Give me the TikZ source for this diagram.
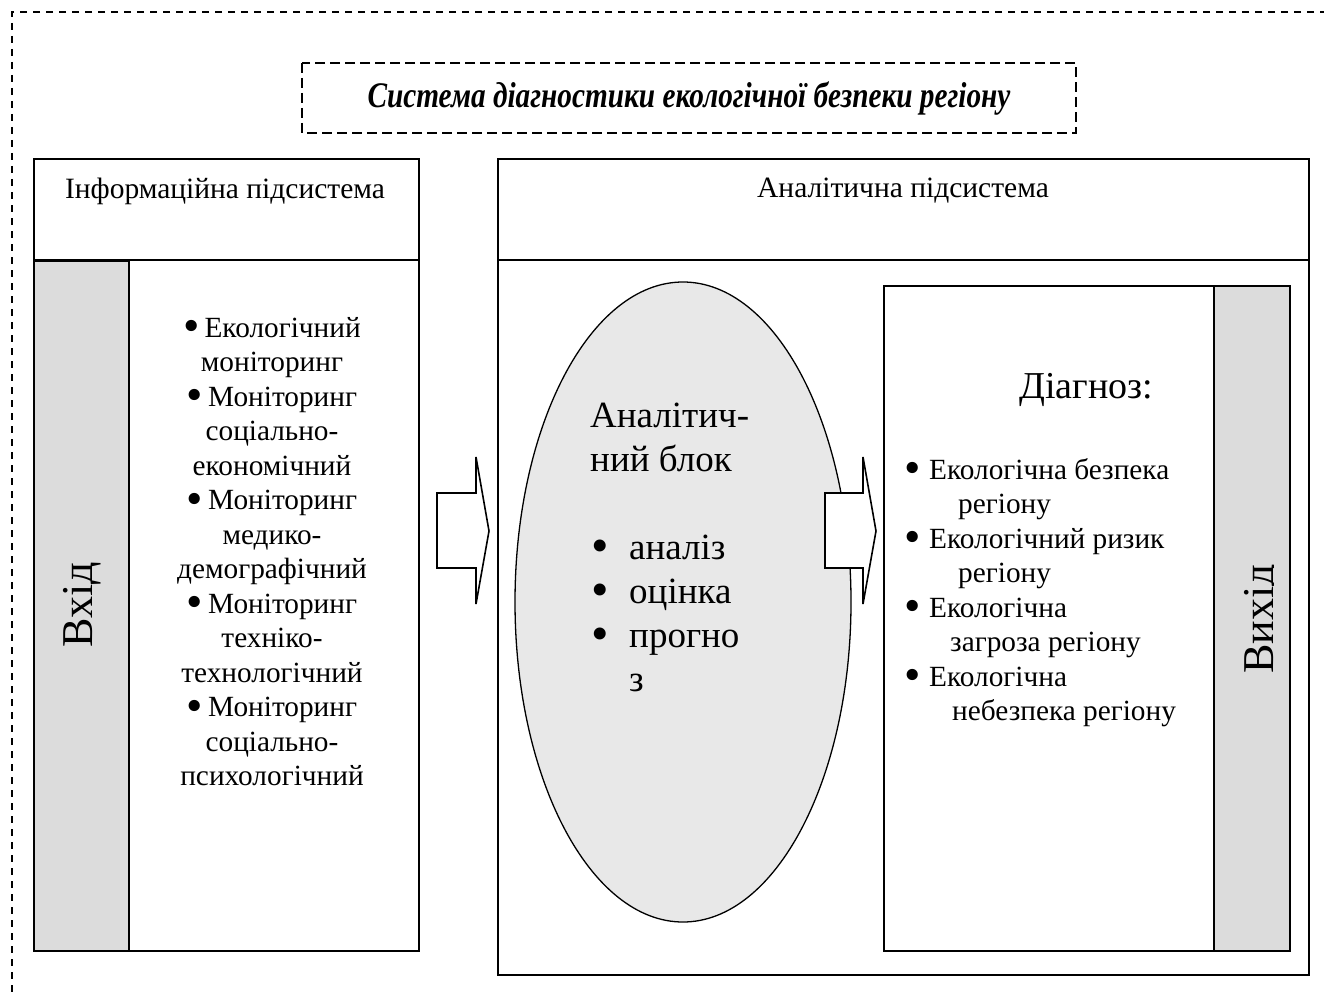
\documentclass[tikz,border=0pt]{standalone}
\usepackage{fontspec}
\setmainfont{Liberation Serif}
\usepackage{graphicx}
\usetikzlibrary{shapes.geometric}
\definecolor{colgray}{HTML}{DCDCDC}
\definecolor{ellgray}{HTML}{E8E8E8}
\newcommand{\bigbul}{\raisebox{-0.17em}{\scalebox{1.6}{•}}}
\newcommand{\midbul}{\raisebox{-0.1em}{\scalebox{1.35}{•}}}
\begin{document}
\begin{tikzpicture}[x=1pt,y=-1pt,
  box/.style={draw, line width=1.8pt, inner sep=0pt, anchor=north west},
  graycol/.style={box, fill=colgray},
  dashedframe/.style={line width=1.5pt, dash pattern=on 7pt off 6pt},
  titleframe/.style={line width=1.5pt, dash pattern=on 10pt off 5pt},
  blockarrow/.style={draw, line width=1.6pt, line join=miter, fill=white},
  headtxt/.style={font=\fontsize{29.5}{34}\selectfont},
  listtxt/.style={font=\fontsize{29.3}{34.5}\selectfont, inner sep=0pt},
  bigtxt/.style={font=\fontsize{37}{44}\selectfont, inner sep=0pt},
  sidetxt/.style={font=\fontsize{44}{50}\selectfont, rotate=90, inner sep=0pt}
]
\useasboundingbox (0,0) rectangle (1324,995);
\clip (0,0) rectangle (1324,995);

% outer dashed frame (runs off the page at right and bottom)
\draw[dashedframe] (1340,12) -- (12,12) -- (12,1010);

% title
\draw[titleframe] (302,63) rectangle (1076,133);
\node[font=\fontsize{36}{40}\selectfont\bfseries\itshape] (title) at (689,99)
  {\resizebox{643pt}{\height}{Система діагностики екологічної безпеки регіону}};

% information subsystem
\node[box, minimum width=385, minimum height=792] (info) at (33,158) {};
\draw[line width=1.8pt] (33,260) -- (418,260);
\node[headtxt] (infohead) at (225,191) {Інформаційна підсистема};
\node[graycol, minimum width=95, minimum height=690] (vhidcol) at (33,260) {};
\node[sidetxt] (vhid) at (82,605) {Вхід};
\node[listtxt, anchor=base] (infolist) at (272,337)
  {\begin{tabular}[t]{@{}c@{}}
   \bigbul\,Екологічний\\ моніторинг\\
   \bigbul\,Моніторинг\\ соціально-\\ економічний\\
   \bigbul\,Моніторинг\\ медико-\\ демографічний\\
   \bigbul\,Моніторинг\\ техніко-\\ технологічний\\
   \bigbul\,Моніторинг\\ соціально-\\ психологічний
   \end{tabular}};

% arrow 1
\draw[blockarrow] (437,493) -- (476,493) -- (476,457) -- (489,531) -- (476,604)
  -- (476,568) -- (437,568) -- cycle;

% analytical subsystem
\node[box, minimum width=811, minimum height=816] (anal) at (497,158) {};
\draw[line width=1.8pt] (497,260) -- (1308,260);
\node[headtxt] (analhead) at (903,191) {Аналітична підсистема};

% ellipse
\node[ellipse, draw, line width=1.3pt, fill=ellgray, minimum width=336, minimum height=640, inner sep=0pt] (ell) at (683,602) {};
\node[bigtxt, anchor=base west] (elltxt) at (590,427)
  {\begin{tabular}[t]{@{}l@{}}
   Аналітич-\\ ний блок\\[44pt]
   \makebox[39pt][l]{\hspace{1pt}\midbul}аналіз\\
   \makebox[39pt][l]{\hspace{1pt}\midbul}оцінка\\
   \makebox[39pt][l]{\hspace{1pt}\midbul}прогно\\
   \makebox[39pt][l]{}з
   \end{tabular}};

% arrow 2
\draw[blockarrow] (825,493) -- (863,493) -- (863,457) -- (876,531) -- (863,604)
  -- (863,568) -- (825,568) -- cycle;

% diagnosis box
\node[box, minimum width=330, minimum height=665] (diag) at (883,285) {};
\node[graycol, minimum width=76, minimum height=665] (vyhidcol) at (1213,285) {};
\begin{scope}
  \clip (1214,286) rectangle (1273.5,949);
  \node[sidetxt, anchor=base] (vyhid) at (1273.5,619) {Вихід};
\end{scope}
\node[font=\fontsize{38}{44}\selectfont, inner sep=0pt] (diaghead) at (1086,390) {Діагноз:};
\node[listtxt, anchor=base west] (diaglist) at (904,479)
  {\begin{tabular}[t]{@{}l@{}}
   \makebox[25pt][l]{\bigbul}Екологічна безпека\\
   \hspace{54pt}регіону\\
   \makebox[25pt][l]{\bigbul}Екологічний ризик\\
   \hspace{54pt}регіону\\
   \makebox[25pt][l]{\bigbul}Екологічна\\
   \hspace{46pt}загроза регіону\\
   \makebox[25pt][l]{\bigbul}Екологічна\\
   \hspace{48pt}небезпека регіону
   \end{tabular}};
\end{tikzpicture}
\end{document}
